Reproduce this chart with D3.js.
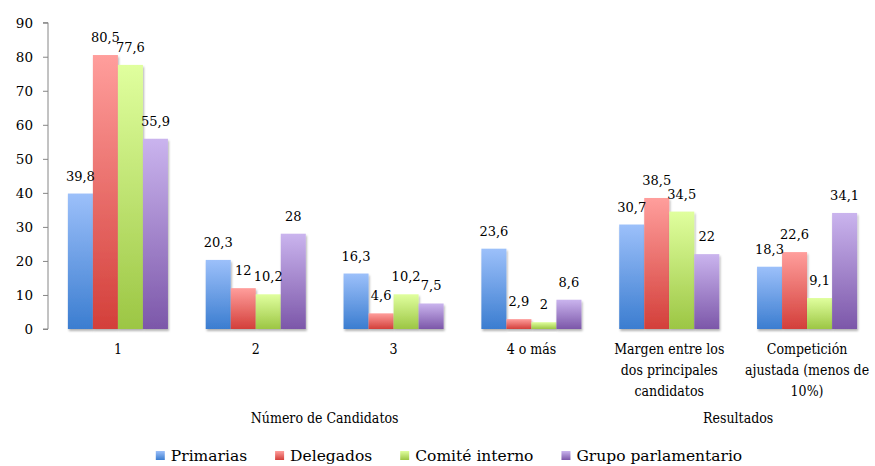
<!DOCTYPE html>
<html>
<head>
<meta charset="utf-8">
<script src="https://cdn.jsdelivr.net/npm/d3@7"></script>
<style>
  body { margin: 0; background: #fff; }
  svg { display: block; }
  text { font-family: "DejaVu Serif", serif; fill: #000; }
  .cond { font-family: "DejaVu Serif Condensed", "DejaVu Serif", serif; font-stretch: condensed; }
</style>
</head>
<body>
<svg width="875" height="466"></svg>
<script>
// data
var categories = ['1', '2', '3', '4 o más', 'Margen entre los dos principales candidatos', 'Competición ajustada (menos de 10%)'];
var categoryLines = [['1'], ['2'], ['3'], ['4 o más'], ['Margen entre los', 'dos principales', 'candidatos'], ['Competición', 'ajustada (menos de', '10%)']];
var groupNames = ['Número de Candidatos', 'Resultados'];
var groupFirst = [0, 4], groupLast = [3, 5];
var series = ['Primarias', 'Delegados', 'Comité interno', 'Grupo parlamentario'];
var primarias = [39.8, 20.3, 16.3, 23.6, 30.7, 18.3];
var delegados = [80.5, 12, 4.6, 2.9, 38.5, 22.6];
var comite = [77.6, 10.2, 10.2, 2, 34.5, 9.1];
var grupo = [55.9, 28, 7.5, 8.6, 22, 34.1];
var yTicks = [0, 10, 20, 30, 40, 50, 60, 70, 80, 90];

var values = [primarias, delegados, comite, grupo];
var topColors = ['#9cc0fa', '#ff9e9c', '#e0ff9e', '#cab4ee'];
var botColors = ['#3b7dd0', '#d33f3a', '#9cc644', '#7c57a9'];

var svg = d3.select('svg');
var defs = svg.append('defs');

// gradients, light on top and dark at the bottom
series.forEach(function(s, i) {
  var gr = defs.append('linearGradient').attr('id', 'g' + i)
    .attr('x1', 0).attr('y1', 0).attr('x2', 0).attr('y2', 1);
  gr.append('stop').attr('offset', '0%').attr('stop-color', topColors[i]);
  gr.append('stop').attr('offset', '100%').attr('stop-color', botColors[i]);
});

var f = defs.append('filter').attr('id', 'shadow')
  .attr('x', '-20%').attr('y', '-20%').attr('width', '150%').attr('height', '150%');
f.append('feDropShadow').attr('dx', 1).attr('dy', 2).attr('stdDeviation', 1.2)
  .attr('flood-color', '#000').attr('flood-opacity', 0.3);

var x0 = d3.scaleBand().domain(categories).range([49, 876]);
var x1 = d3.scaleBand().domain(series)
  .range([x0.bandwidth() * 0.137, x0.bandwidth() * 0.863]);
var y = d3.scaleLinear().domain([0, 90]).range([329, 22.7]);

// y as
var ya = svg.append('g').attr('transform', 'translate(48,0)')
  .call(d3.axisLeft(y).tickValues(yTicks).tickSize(5).tickPadding(10));
ya.select('.domain').attr('stroke', '#868686').attr('d', 'M-5,' + y(90) + 'H0V' + y(0) + 'H-5');
ya.selectAll('.tick line').attr('stroke', '#868686');
ya.selectAll('.tick text').attr('font-family', 'DejaVu Serif').attr('font-size', 13.5).attr('fill', '#000');

// bars
var rows = categories.map(function(c, ci) {
  return series.map(function(s, si) { return { cat: c, s: s, si: si, v: values[si][ci] }; });
});

var cg = svg.selectAll('.cat').data(rows).enter().append('g')
  .attr('class', 'cat')
  .attr('transform', function(d, i) { return 'translate(' + x0(categories[i]) + ',0)'; });

cg.selectAll('rect').data(function(d) { return d; }).enter().append('rect')
  .attr('x', function(d) { return x1(d.s); })
  .attr('y', function(d) { return y(d.v); })
  .attr('width', x1.bandwidth())
  .attr('height', function(d) { return y(0) - y(d.v); })
  .attr('fill', function(d) { return 'url(#g' + d.si + ')'; })
  .attr('filter', 'url(#shadow)');

cg.selectAll('.lbl').data(function(d) { return d; }).enter().append('text')
  .attr('class', 'lbl')
  .attr('x', function(d) { return x1(d.s) + x1.bandwidth() / 2; })
  .attr('y', function(d) { return y(d.v) - 13; })
  .attr('text-anchor', 'middle')
  .attr('font-size', 13)
  .text(function(d) { return String(d.v).replace('.', ','); });

// category labels
categories.forEach(function(c, i) {
  var t = svg.append('text').attr('class', 'cond')
    .attr('x', x0(c) + x0.bandwidth() / 2).attr('y', 354)
    .attr('text-anchor', 'middle').attr('font-size', 14);
  categoryLines[i].forEach(function(l, j) {
    t.append('tspan').attr('x', x0(c) + x0.bandwidth() / 2).attr('dy', j ? 21 : 0).text(l);
  });
});

// group labels
groupNames.forEach(function(g, i) {
  var a = x0(categories[groupFirst[i]]), b = x0(categories[groupLast[i]]) + x0.bandwidth();
  svg.append('text').attr('class', 'cond')
    .attr('x', (a + b) / 2).attr('y', 423)
    .attr('text-anchor', 'middle').attr('font-size', 14)
    .text(g);
});

// legend
var lg = svg.append('g');
var lx = 0;
series.forEach(function(s, i) {
  var it = lg.append('g').attr('transform', 'translate(' + lx + ',0)');
  it.append('rect').attr('x', 0).attr('y', 451).attr('width', 9).attr('height', 9)
    .attr('fill', 'url(#g' + i + ')');
  var t = it.append('text').attr('x', 15).attr('y', 461).attr('font-size', 15.5).text(s);
  lx += 15 + t.node().getComputedTextLength() + 28;
});
lx -= 28;
lg.attr('transform', 'translate(' + (449 - lx / 2) + ',0)');
</script>
</body>
</html>
